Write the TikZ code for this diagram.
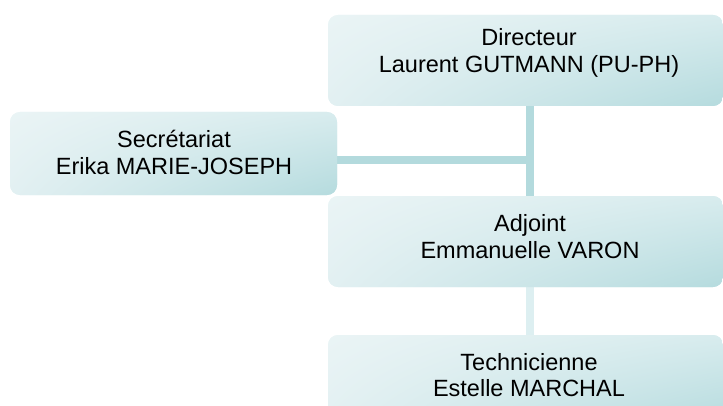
\documentclass[tikz,border=0pt]{standalone}
\usepackage{fontspec}
\setmainfont{Liberation Sans}
\usetikzlibrary{shadings}
\definecolor{boxUL}{HTML}{EAF4F5}
\definecolor{boxLL}{HTML}{E2F0F2}
\definecolor{boxUR}{HTML}{D8ECEE}
\definecolor{boxLR}{HTML}{B5DBDE}
\definecolor{linkcol}{HTML}{B3DADD}
\definecolor{linklight}{HTML}{DDEFF1}
\tikzset{
  orgbox/.style={rounded corners=10pt, inner sep=0pt, upper left=boxUL, upper right=boxUR, lower left=boxLL, lower right=boxLR},
  widebox/.style={orgbox, minimum width=395pt, minimum height=91pt},
  secboxstyle/.style={orgbox, minimum width=327pt, minimum height=83pt},
  orgtext/.style={align=center, font=\fontsize{23.5}{26.5}\selectfont, inner sep=0pt},
  link/.style={draw=linkcol, line width=8pt},
  lightlink/.style={draw=linklight, line width=8pt}
}
\begin{document}
\begin{tikzpicture}[x=1pt,y=1pt]
\useasboundingbox (0,0) rectangle (723,405);
% boxes
\node[widebox] (dirbox) at (525.5,344.5) {};
\node[secboxstyle] (secbox) at (173.5,251.5) {};
\node[widebox] (adjbox) at (525.5,163.5) {};
\node[widebox] (techbox) at (525.5,24.5) {};
% connectors
\coordinate (junc) at (530,245);
\draw[link] (dirbox.south -| junc) -- (adjbox.north -| junc);
\draw[lightlink] (adjbox.south -| junc) -- (techbox.north -| junc);
\draw[link] (secbox.east |- junc) -- ([xshift=4pt]junc);
% redraw boxes on top of connector ends
\node[widebox] at (dirbox) {};
\node[secboxstyle] at (secbox) {};
\node[widebox] at (adjbox) {};
\node[widebox] at (techbox) {};
% texts
\node[orgtext] (dir) at (529,352) {Directeur\\Laurent GUTMANN (PU-PH)};
\node[orgtext] (sec) at (174,252.5) {Secrétariat\\Erika MARIE-JOSEPH};
\node[orgtext] (adj) at (530,168.5) {Adjoint\\Emmanuelle VARON};
\node[orgtext] (tech) at (529,30) {Technicienne\\Estelle MARCHAL};
\end{tikzpicture}
\end{document}
